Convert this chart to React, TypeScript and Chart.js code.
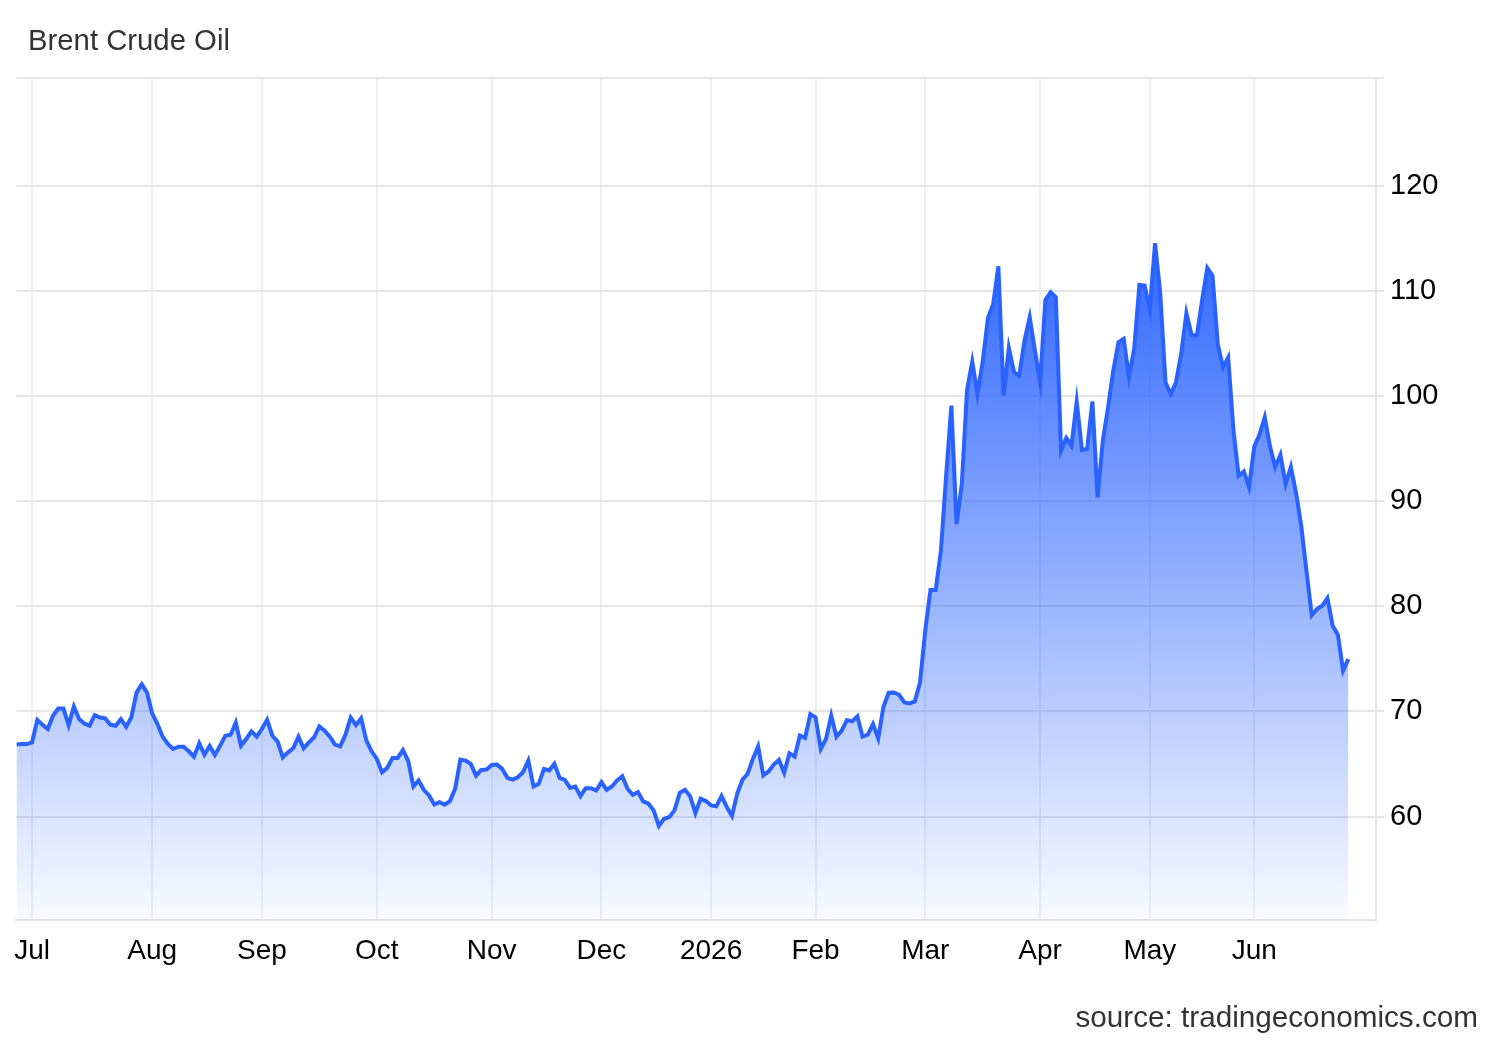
import React, { useEffect, useRef } from 'react';
import { Chart, registerables } from 'chart.js';

Chart.register(...registerables);

// Brent crude daily closes (trading days, late Jun 2025 -> late Jun 2026)
const prices: number[] = [
  66.85, 66.9, 66.9, 67.06, 69.18, 68.74, 68.33, 69.59, 70.28, 70.28,
  68.7, 70.47, 69.27, 68.86, 68.64, 69.65, 69.43, 69.34, 68.74, 68.64,
  69.27, 68.55, 69.43, 71.8, 72.59, 71.8, 69.81, 68.8, 67.6, 66.9,
  66.43, 66.65, 66.65, 66.21, 65.7, 66.97, 65.89, 66.71, 65.86, 66.75,
  67.69, 67.79, 68.93, 66.75, 67.38, 68.1, 67.6, 68.33, 69.21, 67.69,
  67.13, 65.64, 66.11, 66.49, 67.6, 66.49, 67.06, 67.54, 68.58, 68.17,
  67.6, 66.84, 66.68, 67.79, 69.43, 68.7, 69.34, 67.22, 66.21, 65.48,
  64.22, 64.63, 65.58, 65.58, 66.33, 65.32, 62.86, 63.43, 62.54, 62.01,
  61.15, 61.37, 61.12, 61.47, 62.64, 65.42, 65.32, 65.01, 63.9, 64.44,
  64.47, 64.91, 64.94, 64.53, 63.68, 63.52, 63.74, 64.22, 65.32, 62.86,
  63.11, 64.53, 64.38, 65.01, 63.68, 63.49, 62.73, 62.86, 61.94, 62.7,
  62.7, 62.48, 63.27, 62.54, 62.86, 63.43, 63.84, 62.64, 62.07, 62.32,
  61.44, 61.22, 60.58, 59.1, 59.79, 59.95, 60.58, 62.26, 62.55, 61.92,
  60.34, 61.69, 61.47, 61.06, 60.97, 61.95, 60.91, 60.06, 62.18, 63.5,
  64.07, 65.49, 66.66, 63.91, 64.29, 64.95, 65.39, 64.16, 66.02, 65.71,
  67.7, 67.48, 69.75, 69.44, 66.43, 67.38, 69.59, 67.6, 68.17, 69.18,
  69.06, 69.53, 67.6, 67.79, 68.8, 67.44, 70.45, 71.78, 71.81, 71.59,
  70.86, 70.76, 70.95, 72.76, 77.68, 81.56, 81.56, 85.3, 92.44, 99.11,
  87.84, 91.65, 100.6, 103.3, 100.22, 103.3, 107.46, 108.73, 112.38, 100.06,
  104.6, 102.29, 101.97, 105.3, 107.52, 104.35, 101.33, 109.17, 109.9, 109.43,
  94.83, 96.03, 95.3, 99.49, 94.89, 94.98, 99.52, 90.38, 95.78, 98.95,
  102.44, 105.14, 105.46, 101.81, 104.51, 110.6, 110.54, 108.22, 114.57, 109.75,
  101.33, 100.22, 101.33, 104.03, 107.9, 105.84, 105.78, 109.11, 112.22, 111.49,
  104.98, 102.76, 103.71, 96.83, 92.44, 92.86, 91.37, 95.24, 96.35, 98.0,
  95.24, 93.27, 94.44, 91.65, 93.27, 90.79, 87.62, 83.33, 79.14, 79.75,
  80.06, 80.79, 78.16, 77.3, 73.9, 74.98,
];

// x-axis month labels and the trading-day index where each month starts
const monthLabels: string[] = ['Jul', 'Aug', 'Sep', 'Oct', 'Nov', 'Dec', '2026', 'Feb', 'Mar', 'Apr', 'May', 'Jun'];
const monthStartIndex: number[] = [3, 26, 47, 69, 91, 112, 133, 153, 174, 196, 217, 237];

// y-axis tick values
const yTickValues: number[] = [60, 70, 80, 90, 100, 110, 120];

const titleText = 'Brent Crude Oil';
const sourceText = 'source: tradingeconomics.com';

const FONT = "'Liberation Sans', Arial, Helvetica, sans-serif";
const LINE_COLOR = '#2962ff';

export default function App() {
  const canvasRef = useRef<HTMLCanvasElement>(null);

  useEffect(() => {
    document.body.style.margin = '0';
    const canvas = canvasRef.current;
    if (!canvas) return;
    const Y_MIN = 50.15;
    const Y_MAX = 130.3;
    const X_MAX = 260.3;

    const chart = new Chart(canvas, {
      type: 'line',
      data: {
        datasets: [
          {
            label: titleText,
            data: prices.map((p, i) => ({ x: i, y: p })),
            borderColor: LINE_COLOR,
            borderWidth: 4,
            pointRadius: 0,
            pointHoverRadius: 0,
            tension: 0,
            fill: 'start',
            backgroundColor: (c: any) => {
              const ch = c.chart;
              const area = ch.chartArea;
              if (!area) return 'rgba(41,98,255,0.4)';
              const g = ch.ctx.createLinearGradient(0, area.top, 0, area.bottom);
              g.addColorStop(0, 'rgba(41,98,255,1)');
              g.addColorStop(0.17, 'rgba(41,98,255,1)');
              g.addColorStop(1, 'rgba(41,98,255,0.03)');
              return g;
            },
          },
        ],
      },
      options: {
        responsive: false,
        maintainAspectRatio: false,
        animation: false,
        devicePixelRatio: 1,
        layout: { padding: { left: 16, top: 78, right: 0, bottom: 0 } },
        plugins: {
          legend: { display: false },
          title: { display: false },
          tooltip: { enabled: false },
        },
        scales: {
          x: {
            type: 'linear',
            min: 0,
            max: X_MAX,
            position: 'bottom',
            afterBuildTicks: (scale: any) => {
              scale.ticks = monthStartIndex.map((v) => ({ value: v }));
            },
            afterFit: (scale: any) => {
              scale.height = 120;
            },
            grid: {
              color: '#edf0f5',
              lineWidth: 2,
              drawTicks: false,
            },
            border: { display: true, color: '#e3e3e3', width: 2 },
            ticks: {
              autoSkip: false,
              maxRotation: 0,
              padding: 14,
              color: '#000',
              font: { family: FONT, size: 28 },
              callback: (v: any) => {
                const k = monthStartIndex.indexOf(Number(v));
                return k >= 0 ? monthLabels[k] : '';
              },
            },
          },
          y: {
            type: 'linear',
            position: 'right',
            min: Y_MIN,
            max: Y_MAX,
            afterBuildTicks: (scale: any) => {
              scale.ticks = [...yTickValues, Y_MAX].map((v) => ({ value: v }));
            },
            afterFit: (scale: any) => {
              scale.width = 124;
            },
            grid: {
              color: '#e6e6e6',
              lineWidth: 2,
              tickLength: 8,
            },
            border: { display: true, color: '#e6e6e6', width: 2 },
            ticks: {
              padding: 6,
              color: '#000',
              font: { family: FONT, size: 29 },
              callback: (v: any) => (yTickValues.indexOf(Number(v)) >= 0 ? String(v) : ''),
            },
          },
        },
      },
    });
    return () => chart.destroy();
  }, []);

  return (
    <div style={{ position: 'relative', width: 1500, height: 1040, background: '#fff', fontFamily: FONT, overflow: 'hidden' }}>
      <canvas ref={canvasRef} width={1500} height={1040} style={{ position: 'absolute', left: 0, top: 0, width: 1500, height: 1040 }} />
      <div style={{ position: 'absolute', left: 28, top: 25, fontSize: 29.3, lineHeight: '29px', color: '#333', whiteSpace: 'nowrap' }}>
        {titleText}
      </div>
      <div style={{ position: 'absolute', right: 22, top: 1002, fontSize: 29.7, lineHeight: '29px', color: '#333', whiteSpace: 'nowrap' }}>
        {sourceText}
      </div>
    </div>
  );
}
